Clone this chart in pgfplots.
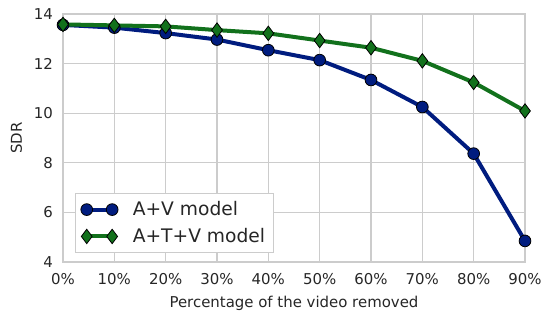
\documentclass[border=0pt]{standalone}
\usepackage{pgfplots}
\pgfplotsset{compat=1.18}
\usepackage{fontspec}
\setmainfont{DejaVu Sans}
\definecolor{sbblue}{HTML}{001C7F}
\definecolor{sbgreen}{HTML}{12711C}
\definecolor{gridc}{HTML}{CCCCCC}
\definecolor{txt}{HTML}{262626}
\begin{document}
\begin{tikzpicture}
\begin{axis}[
  name=ax,
  scale only axis,
  width=346.5pt, height=186pt,
  xmin=0, xmax=90, ymin=4, ymax=14,
  xtick={0,10,...,90},
  xticklabels={0\%,10\%,20\%,30\%,40\%,50\%,60\%,70\%,80\%,90\%},
  ytick={4,6,8,10,12,14},
  /pgf/number format/assume math mode=true,
  grid=major,
  major grid style={gridc, line width=0.8pt},
  axis line style={gridc, line width=1pt},
  tick style={draw=none},
  ticklabel style={font=\fontsize{11.2pt}{13pt}\selectfont, text=txt},
  xticklabel style={yshift=-5pt},
  yticklabel style={xshift=-4pt},
  xlabel={Percentage of the video removed},
  ylabel={SDR},
  label style={font=\fontsize{11.2pt}{13pt}\selectfont, text=txt},
  xlabel style={at={(axis description cs:0.5,-0.165)}, anchor=center},
  ylabel style={at={(axis description cs:-0.101,0.5)}, anchor=center},
  clip=false,
  legend style={at={(0.026,0.036)}, anchor=south west, draw=gridc, line width=0.8pt,
    font=\fontsize{14pt}{17pt}\selectfont, text=txt, row sep=4pt,
    inner xsep=4pt, inner ysep=4pt},
  legend cell align=left,
  legend image code/.code={
    \draw[#1] plot coordinates {(0cm,0cm) (0.67cm,0cm)};
    \path (0.67cm+12pt,0cm);
  },
]
\addplot[sbblue, line width=3pt, mark=*, mark size=4.4pt,
  mark options={fill=sbblue, draw=black, line width=0.6pt}]
  coordinates {(0,13.56) (10,13.45) (20,13.23) (30,12.97) (40,12.54) (50,12.14) (60,11.34) (70,10.25) (80,8.37) (90,4.85)};
\addlegendentry{A+V model}
\addplot[sbgreen, line width=3pt, mark=diamond*, mark size=5.4pt,
  mark options={fill=sbgreen, draw=black, line width=0.6pt}]
  coordinates {(0,13.58) (10,13.54) (20,13.5) (30,13.35) (40,13.22) (50,12.93) (60,12.64) (70,12.11) (80,11.24) (90,10.09)};
\addlegendentry{A+T+V model}
\end{axis}
\pgfresetboundingbox
\path ([xshift=-47.25pt,yshift=-38.25pt]ax.south west) rectangle ([xshift=15pt,yshift=10.5pt]ax.north east);
\end{tikzpicture}
\end{document}
